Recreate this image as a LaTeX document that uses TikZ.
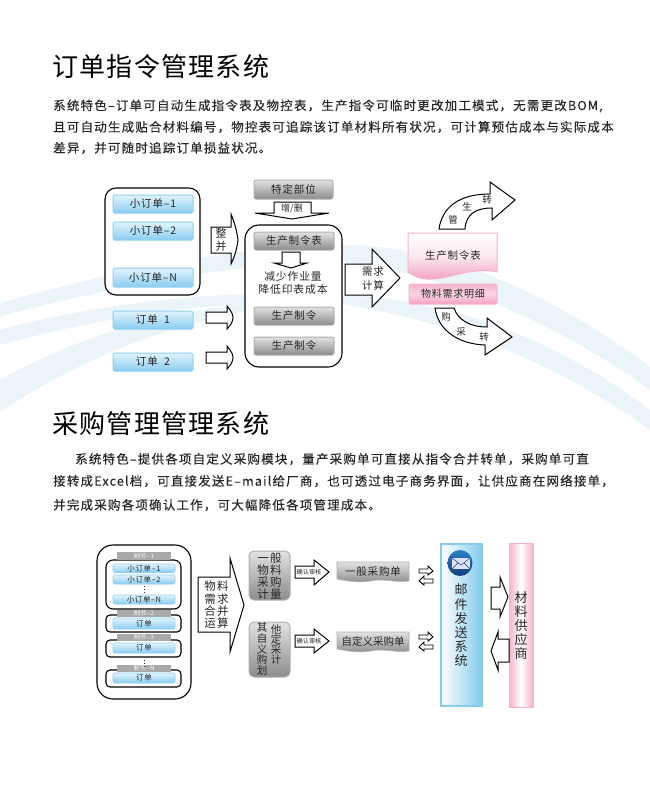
\documentclass[tikz,border=0pt]{standalone}
\usepackage{fontspec}
\usetikzlibrary{shapes.geometric}
\setmainfont{Noto Sans CJK SC}
\newfontfamily\cnbody[LetterSpace=9.6,FakeBold=0.12]{Noto Sans CJK SC}
\newfontfamily\cntitle[LetterSpace=5]{Noto Sans CJK SC}
\newfontfamily\cnbox[LetterSpace=8]{Noto Sans CJK SC}
\newcommand{\fs}[2]{\fontsize{#1}{#2}\selectfont}
\definecolor{bluetop}{HTML}{E2F3FC}
\definecolor{bluebot}{HTML}{8ACDF1}
\definecolor{blueln}{HTML}{8CD0F2}
\definecolor{grey1}{HTML}{E2E2E2}
\definecolor{grey2}{HTML}{8C8C8C}
\definecolor{grey3}{HTML}{B0B0B0}
\definecolor{txt}{HTML}{262626}
\definecolor{tagc}{HTML}{A9A9A9}
\definecolor{bandc}{HTML}{EAF4F9}
\definecolor{pinkb}{HTML}{F6B3CE}
\definecolor{pinkd}{HTML}{F3A0C2}
\definecolor{panelb}{HTML}{84CBEE}
\definecolor{icont}{HTML}{2B7CC4}
\definecolor{iconb}{HTML}{0E3F80}
\tikzset{
  bluebox/.style={draw=blueln,line width=1pt,rounded corners=1.5pt,top color=bluetop,bottom color=bluebot,inner sep=0pt},
  greybox/.style={draw=grey3,line width=1pt,rounded corners=2pt,top color=grey1,bottom color=grey2,inner sep=0pt},
  framebox/.style={draw=black,line width=1.1pt,fill=white,inner sep=0pt},
  barrow/.style={draw=black,fill=white,line width=1pt,line join=miter},
  wavy/.style={draw=grey3,line width=.6pt,top color=grey1,bottom color=grey2},
  lbl/.style={inner sep=0pt,text=txt},
  tag/.style={fill=tagc,inner sep=0pt,text=white,font=\cnbox\fs{6}{7}},
  band/.style={fill=bandc,draw=none}
}
\newcommand{\bx}[7]{\node[#2,minimum width={(#5-#3)*1pt},minimum height={(#6-#4)*1pt}] (#1) at ({(#3+#5)/2},{(#4+#6)/2}) {#7};}
\begin{document}
\begin{tikzpicture}[x=1pt,y=-1pt]
\useasboundingbox (0,0) rectangle (650,792);
\fill[white] (0,0) rectangle (650,792);
% background bands
\path[band] (0,303) .. controls (120,270) and (240,245) .. (344,245) .. controls (450,245) and (560,300) .. (650,367) -- (650,390) .. controls (560,325) and (450,275) .. (344,262) .. controls (240,262) and (120,285) .. (0,316) -- cycle;
\path[band] (0,330) .. controls (90,305) and (220,288) .. (344,295) .. controls (470,302) and (570,350) .. (650,410) -- (650,430) .. controls (570,372) and (470,325) .. (344,304) .. controls (220,296) and (90,320) .. (0,345) -- cycle;
\path[band] (0,380) .. controls (70,340) and (170,305) .. (300,300) -- (300,302) .. controls (170,318) and (70,365) .. (0,412) -- cycle;
% titles and paragraphs
\node[lbl,anchor=west,font=\cntitle\fs{26}{28},text=black] (t1) at (52,67) {订单指令管理系统};
\node[lbl,anchor=west,font=\cnbody\fs{12.5}{14}] (p1) at (53,106) {系统特色–订单可自动生成指令表及物控表，生产指令可临时更改加工模式，无需更改BOM,};
\node[lbl,anchor=west,font=\cnbody\fs{12.5}{14}] (p2) at (53,127) {且可自动生成贴合材料编号，物控表可追踪该订单材料所有状况，可计算预估成本与实际成本};
\node[lbl,anchor=west,font=\cnbody\fs{12.5}{14}] (p3) at (53,148) {差异，并可随时追踪订单损益状况。};
\node[lbl,anchor=west,font=\cntitle\fs{26}{28},text=black] (t2) at (52,424) {采购管理管理系统};
\node[lbl,anchor=west,font=\cnbody\fs{12.5}{14}] (q1) at (75,459) {系统特色–提供各项自定义采购模块，量产采购单可直接从指令合并转单，采购单可直};
\node[lbl,anchor=west,font=\cnbody\fs{12.5}{14}] (q2) at (53,481) {接转成Excel档，可直接发送E–mail给厂商，也可透过电子商务界面，让供应商在网络接单，};
\node[lbl,anchor=west,font=\cnbody\fs{12.5}{14}] (q3) at (53,505) {并完成采购各项确认工作，可大幅降低各项管理成本。};
% ---- diagram 1
\bx{o1}{framebox,rounded corners=11pt}{105}{188}{200}{295}{}
\tikzset{every node/.append style={font=\cnbox\fs{10.5}{12},text=txt}}
\bx{a1}{bluebox}{113}{195}{193}{213}{小订单–1}
\bx{a2}{bluebox}{113}{222}{193}{240}{小订单–2}
\bx{a3}{bluebox}{113}{268}{193}{287}{小订单–N}
\bx{a4}{bluebox}{113}{311}{193}{329}{订单\ \ 1}
\bx{a5}{bluebox}{113}{353}{193}{371}{订单\ \ 2}
\path[barrow] (211,227) -- (231,227) -- (231,214) .. controls (235,224) and (237,232) .. (238,240) .. controls (237,248) and (235,256) .. (231,264) -- (231,253) -- (211,253) -- cycle;
\node[lbl,align=center,font=\cnbox\fs{11}{13.5}] (zb) at (221,240) {整\\并};
\path[barrow] (206,312) -- (227,312) -- (227,306) .. controls (231,311) and (233,314) .. (233,317.5) .. controls (233,321) and (231,325) .. (227,329) -- (227,323) -- (206,323) -- cycle;
\path[barrow] (206,352) -- (227,352) -- (227,346) .. controls (231,351) and (233,354) .. (233,357.5) .. controls (233,361) and (231,365) .. (227,369) -- (227,363) -- (206,363) -- cycle;
\bx{b0}{greybox}{254}{180}{333}{199}{特定部位}
\path[barrow] (274,202) -- (311,202) -- (311,213) -- (329,213) -- (292,219) -- (255,213) -- (274,213) -- cycle;
\node[lbl,font=\fs{9}{11}] (zs) at (292,209) {增/删};
\bx{o2}{framebox,rounded corners=14pt}{245}{225}{342}{367}{}
\bx{b1}{greybox}{254}{232}{334}{250}{生产制令表}
\path[barrow] (282,252) -- (300,252) -- (300,263) -- (307,263) -- (291,268) -- (274,263) -- (282,263) -- cycle;
\node[lbl,align=center,font=\cnbox\fs{10.8}{12.5}] (jian) at (293,283) {减少作业量\\降低印表成本};
\bx{b2}{greybox}{254}{307}{334}{325}{生产制令}
\bx{b3}{greybox}{254}{337}{334}{355}{生产制令}
\path[barrow] (345,264) -- (372,264) -- (372,249) -- (400,278) -- (372,307) -- (372,295) -- (345,295) -- cycle;
\node[lbl,align=center,font=\cnbox\fs{10.5}{14}] (xq) at (373,279) {需求\\计算};
% pink doc
\path[draw=pinkb,line width=1pt,top color=white,bottom color=pinkd,middle color=white!70!pinkb] (408,233) -- (497,233) -- (497,272) .. controls (470,266) and (450,280) .. (427,279) .. controls (420,279) and (414,276) .. (408,272) -- cycle;
\node[lbl,font=\cnbox\fs{10.5}{12}] (sc) at (453,256) {生产制令表};
\bx{m}{draw=pinkb,line width=1pt,rounded corners=1.5pt,top color=pinkb,bottom color=pinkd,middle color=white!45!pinkb,inner sep=0pt}{409}{284}{497}{304}{\fs{10}{12}物料需求明细}
% curved arrows
\path[barrow] (439,229) .. controls (442,208) and (458,194) .. (490,194) -- (490,182) -- (515,200) -- (492,220) -- (492,208) .. controls (476,208) and (466,214) .. (465,229) -- cycle;
\node[lbl,font=\fs{9.5}{11}] (g1) at (453,220) {管};
\node[lbl,font=\fs{9.5}{11}] (g2) at (467,207) {生};
\node[lbl,font=\fs{9.5}{11}] (g3) at (487,200) {转};
\path[barrow] (435,308) .. controls (438,330) and (458,344) .. (485,345) -- (485,355) -- (512,337) -- (487,318) -- (487,327) .. controls (470,327) and (458,320) .. (454,308) -- cycle;
\node[lbl,font=\fs{9.5}{11}] (c1) at (446,317) {购};
\node[lbl,font=\fs{9.5}{11}] (c2) at (461,332) {采};
\node[lbl,font=\fs{9.5}{11}] (c3) at (484,337) {转};
% ---- diagram 2
\bx{oo}{framebox,rounded corners=16pt}{97}{545}{191}{699}{}
\bx{i1}{framebox,rounded corners=7pt}{106}{560}{181}{609}{}
\bx{i2}{framebox,rounded corners=4pt}{106}{615}{181}{632}{}
\bx{i3}{framebox,rounded corners=4pt}{106}{640}{181}{657}{}
\bx{i4}{framebox,rounded corners=4pt}{106}{670}{181}{687}{}
\bx{t1a}{tag}{117}{552}{171}{559.5}{制节–1}
\bx{t2a}{tag}{117}{610}{171}{617}{制节–2}
\bx{t3a}{tag}{117}{634}{171}{641}{制节–3}
\bx{t4a}{tag}{117}{665}{171}{672}{制节–N}
\tikzset{every node/.append style={font=\cnbox\fs{7.5}{9}}}
\bx{s1}{bluebox,line width=.6pt}{113}{564}{175}{572.5}{小订单–1}
\bx{s2}{bluebox,line width=.6pt}{113}{575}{175}{584}{小订单–2}
\bx{s3}{bluebox,line width=.6pt}{113}{595}{175}{604}{小订单–N}
\bx{s4}{bluebox,line width=.6pt}{113}{618}{175}{629}{订单}
\bx{s5}{bluebox,line width=.6pt}{113}{643}{175}{653}{订单}
\bx{s6}{bluebox,line width=.6pt}{113}{673}{175}{683}{订单}
\draw[dotted,line width=.8pt,txt] (144,586) -- (144,594);
\draw[dotted,line width=.8pt,txt] (144,660) -- (144,668);
\path[barrow] (198,577) -- (230,577) -- (230,558) -- (244,605) -- (230,652) -- (230,632) -- (198,632) -- cycle;
\node[lbl,align=center,font=\fs{11.5}{12.3}] (wl) at (216.5,605) {物\hspace{1.5pt}料\\需\hspace{1.5pt}求\\合\hspace{1.5pt}并\\运\hspace{1.5pt}算};
\bx{g1a}{greybox,rounded corners=5pt}{249}{551}{290}{600}{}
\node[lbl,align=center,font=\fs{11.5}{12.2}] (wl1) at (269.5,576) {一\hspace{1.5pt}般\\物\hspace{1.5pt}料\\采\hspace{1.5pt}购\\计\hspace{1.5pt}量};
\bx{g2a}{greybox,rounded corners=5pt}{249}{622}{290}{677}{}
\node[lbl,align=center,font=\fs{10.5}{9.5}] (v1) at (262,649) {其\\自\\义\\购\\划};
\node[lbl,align=center,font=\fs{10.5}{10}] (v2) at (276,645) {他\\定\\采\\计};
\path[barrow] (295,566) -- (314,566) -- (314,560) -- (329,572) -- (314,585) -- (314,578) -- (295,578) -- cycle;
\node[lbl,font=\fs{6.2}{7}] (r1) at (309,572) {确认审核};
\path[barrow] (295,635) -- (314,635) -- (314,629) -- (329,641) -- (314,653) -- (314,647) -- (295,647) -- cycle;
\node[lbl,font=\fs{6.2}{7}] (r2) at (309,641) {确认审核};
\path[wavy] (337,562) -- (409,562) -- (409,581) .. controls (395,583) and (385,578) .. (370,581) .. controls (358,583) and (348,581) .. (337,579) -- cycle;
\node[lbl,font=\cnbox\fs{10.5}{12}] (d1) at (373,572) {一般采购单};
\path[wavy] (337,632) -- (409,632) -- (409,651) .. controls (395,653) and (385,648) .. (370,651) .. controls (358,653) and (348,651) .. (337,649) -- cycle;
\node[lbl,font=\fs{10.5}{12}] (d2) at (373,641) {自定义采购单};
% small double arrows
\foreach \yy/\zz in {571/581,637/647}{
\path[barrow,line width=.9pt] (419,\yy-2) -- (428,\yy-2) -- (428,\yy-5) -- (433,\yy) -- (428,\yy+4) -- (428,\yy+2) -- (419,\yy+2) -- cycle;
\path[barrow,line width=.9pt] (433,\zz-2) -- (424,\zz-2) -- (424,\zz-5) -- (419,\zz) -- (424,\zz+4) -- (424,\zz+2) -- (433,\zz+2) -- cycle;
}
% panels
\bx{mail}{draw=panelb,line width=2pt,left color=white,right color=panelb,inner sep=0pt}{441}{544}{482}{706}{}
\bx{sup}{draw=pinkb,line width=1pt,left color=pinkb,right color=pinkb,middle color=white,inner sep=0pt}{509}{543}{533}{707}{}
\node[ellipse,inner sep=0pt,minimum width=25pt,minimum height=26pt,top color=icont,bottom color=iconb] (ic) at (460,563) {};
\fill[white!88!blue] (452,558) rectangle (470,569);
\draw[iconb,line width=.5pt] (452,558) -- (461,565) -- (470,558) (452,569) -- (458,563) (470,569) -- (464,563);
\node[lbl,align=center,font=\fs{13}{14.2}] (ml) at (461,625.5) {邮\\件\\发\\送\\系\\统};
\node[lbl,align=center,font=\fs{13}{13.8}] (gy) at (521,625.5) {材\\料\\供\\应\\商};
\path[barrow] (491,587) -- (500,587) -- (500,577) -- (508,597) -- (500,617) -- (500,609) -- (491,609) -- cycle;
\path[barrow] (509,639) -- (498,639) -- (498,632) -- (491,651) -- (498,670) -- (498,662) -- (509,662) -- cycle;
\end{tikzpicture}
\end{document}
